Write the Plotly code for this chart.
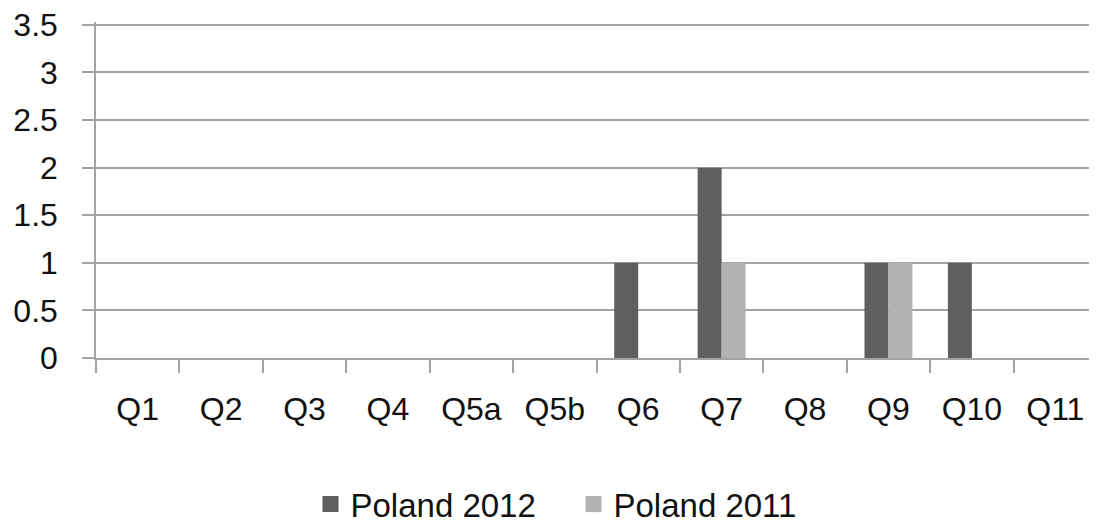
import plotly.graph_objects as go

categories = ["Q1", "Q2", "Q3", "Q4", "Q5a", "Q5b", "Q6", "Q7", "Q8", "Q9", "Q10", "Q11"]
poland_2012 = [0, 0, 0, 0, 0, 0, 1, 2, 0, 1, 1, 0]
poland_2011 = [0, 0, 0, 0, 0, 0, 0, 1, 0, 1, 0, 0]
y_ticks = [0, 0.5, 1, 1.5, 2, 2.5, 3, 3.5]
y_tick_labels = ["0", "0.5", "1", "1.5", "2", "2.5", "3", "3.5"]
series_names = ["Poland 2012", "Poland 2011"]
series_colors = ["#5f5f5f", "#b3b3b3"]

FONT = "Liberation Sans"
GRID = "#a3a3a3"

fig = go.Figure()
for name, vals, col in zip(series_names, [poland_2012, poland_2011], series_colors):
    fig.add_trace(go.Bar(x=categories, y=vals, name=name, showlegend=False,
                         marker=dict(color=col, line=dict(width=0))))
# legend entries with larger square symbols
for name, col in zip(series_names, series_colors):
    fig.add_trace(go.Scatter(x=[None], y=[None], mode="markers", name=name,
                             marker=dict(symbol="square", size=18, color=col)))

# page body has an 8px margin, so the figure is sized/offset to compensate
fig.update_layout(
    width=1089, height=520,
    margin=dict(l=88, r=0, t=14, b=170, autoexpand=False),
    paper_bgcolor="white", plot_bgcolor="white",
    barmode="group", bargap=0.425, bargroupgap=0,
    font=dict(family=FONT, size=32, color="#111111"),
    legend=dict(orientation="h", x=0.477, xanchor="center", y=-0.435, yanchor="middle",
                font=dict(family=FONT, size=33), itemsizing="trace",
                traceorder="normal", itemwidth=30,
                entrywidth=218, entrywidthmode="pixels"),
    showlegend=True,
)
fig.update_xaxes(
    type="category", showgrid=False, showline=True, linecolor=GRID, linewidth=1.5,
    ticks="outside", tickson="boundaries", ticklen=13, tickcolor=GRID, tickwidth=1.5,
    ticklabelstandoff=22, zeroline=False, automargin=False, ticklabeloverflow="allow",
)
fig.update_yaxes(
    range=[0, 3.53], tickvals=y_ticks, ticktext=y_tick_labels,
    showgrid=True, gridcolor=GRID, gridwidth=1.5,
    showline=True, linecolor=GRID, linewidth=1.5,
    ticks="outside", ticklen=12, tickcolor=GRID, tickwidth=1.5,
    ticklabelstandoff=18, zeroline=False, automargin=False, ticklabeloverflow="allow",
)

fig.write_html("out.html")
